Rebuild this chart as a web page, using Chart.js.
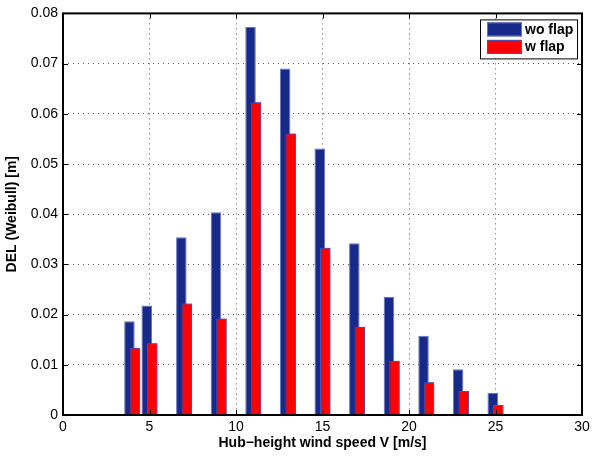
<!DOCTYPE html>
<html>
<head>
<meta charset="utf-8">
<script src="https://cdn.jsdelivr.net/npm/chart.js@4.4.1/dist/chart.umd.min.js"></script>
<style>
    html, body { margin: 0; padding: 0; background: #ffffff; }
    #wrap { width: 600px; height: 456px; }
</style>
</head>
<body>
<div id="wrap"><canvas id="chart"></canvas></div>
<script>
const windSpeeds = [4, 5, 7, 9, 11, 13, 15, 17, 19, 21, 23, 25];
const delWithoutFlap = [0.0187, 0.0218, 0.0354, 0.0404, 0.0773, 0.0690, 0.0531, 0.0342, 0.0235, 0.0158, 0.0091, 0.0044];
const delWithFlap = [0.0134, 0.0143, 0.0222, 0.0192, 0.0623, 0.0561, 0.0333, 0.0176, 0.0108, 0.0065, 0.0048, 0.0020];
const xTicks = [0, 5, 10, 15, 20, 25, 30];
const yTicks = [0, 0.01, 0.02, 0.03, 0.04, 0.05, 0.06, 0.07, 0.08];

const toPoints = (values) => windSpeeds.map((v, i) => ({ x: v, y: values[i] }));

const tickFont = { family: "'Liberation Sans', Arial, sans-serif", size: 14 };
const titleFont = { family: "'Liberation Sans', Arial, sans-serif", size: 14, weight: 'bold' };

// box round the plot plus inward ticks, matlab style
const axesBox = {
    id: 'axesBox',
    afterDatasetsDraw(chart) {
        const { ctx, chartArea: a, scales } = chart;
        // red bars sit on top of the blue ones but stay on the right
        ctx.save();
        chart.getDatasetMeta(1).data.forEach(el => el.draw(ctx, a));
        ctx.restore();

        ctx.save();
        ctx.strokeStyle = '#000';
        ctx.lineWidth = 1;
        ctx.beginPath();
        xTicks.forEach(t => {
            const px = Math.round(scales.x.getPixelForValue(t)) + 0.5;
            ctx.moveTo(px, a.bottom); ctx.lineTo(px, a.bottom - 5);
            ctx.moveTo(px, a.top); ctx.lineTo(px, a.top + 5);
        });
        yTicks.forEach(t => {
            const py = Math.round(scales.y.getPixelForValue(t)) + 0.5;
            ctx.moveTo(a.left, py); ctx.lineTo(a.left + 5, py);
            ctx.moveTo(a.right, py); ctx.lineTo(a.right - 5, py);
        });
        ctx.stroke();
        ctx.lineWidth = 2;
        ctx.strokeRect(a.left, a.top, a.right - a.left, a.bottom - a.top);
        ctx.restore();
    },
    afterDraw(chart) {
        // legend box in the top right corner of the axes
        const { ctx, chartArea: a } = chart;
        const boxW = 97, boxH = 39;
        const bx = a.right - 5 - boxW, by = a.top + 6;
        ctx.save();
        ctx.fillStyle = '#fff';
        ctx.fillRect(bx, by, boxW, boxH);
        ctx.strokeStyle = '#000';
        ctx.lineWidth = 1;
        ctx.strokeRect(bx + 0.5, by + 0.5, boxW, boxH);
        ctx.font = "bold 14px 'Liberation Sans', Arial, sans-serif";
        ctx.textBaseline = 'middle';
        chart.data.datasets.forEach((ds, i) => {
            const sy = by + 3 + i * 17.5;
            ctx.fillStyle = ds.backgroundColor;
            ctx.fillRect(bx + 7, sy, 35, 14);
            ctx.strokeStyle = ds.borderColor;
            ctx.strokeRect(bx + 7.5, sy + 0.5, 34, 13);
            ctx.fillStyle = '#000';
            ctx.fillText(ds.label, bx + 45, sy + 7.5);
        });
        ctx.restore();
    }
};

new Chart(document.getElementById('chart'), {
    type: 'bar',
    data: {
        datasets: [
            {
                label: 'wo flap',
                data: toPoints(delWithoutFlap),
                backgroundColor: '#172a8a',
                borderColor: '#6674bd',
                borderWidth: 1
            },
            {
                label: 'w flap',
                data: toPoints(delWithFlap),
                backgroundColor: '#ff0000',
                borderColor: '#4a4fb0',
                borderWidth: 1
            }
        ]
    },
    options: {
        responsive: true,
        maintainAspectRatio: false,
        animation: false,
        categoryPercentage: 0.64,
        barPercentage: 1.9,
        layout: { padding: { left: 0, right: 18, top: 6, bottom: 0 } },
        plugins: {
            legend: { display: false },
            tooltip: { enabled: false }
        },
        scales: {
            x: {
                type: 'linear',
                min: 0,
                max: 30,
                offset: false,
                afterBuildTicks: (scale) => { scale.ticks = xTicks.map(v => ({ value: v })); },
                afterFit: (scale) => { scale.height = 41; },
                grid: { color: '#555', lineWidth: 1, drawTicks: false, offset: false },
                border: { display: false, dash: [1, 4] },
                ticks: { color: '#000', font: tickFont, padding: 4, maxRotation: 0 },
                title: { display: true, text: 'Hub\u2212height wind speed V [m/s]', color: '#000', font: titleFont, padding: { top: 0 } }
            },
            y: {
                min: 0,
                max: 0.08,
                afterBuildTicks: (scale) => { scale.ticks = yTicks.map(v => ({ value: v })); },
                afterFit: (scale) => { scale.width = 63; },
                grid: { color: '#555', lineWidth: 1, drawTicks: false },
                border: { display: false, dash: [1, 4] },
                ticks: { color: '#000', font: tickFont, padding: 5, callback: (v) => String(+v.toFixed(2)) },
                title: { display: true, text: 'DEL (Weibull) [m]', color: '#000', font: titleFont, padding: { bottom: 4 } }
            }
        }
    },
    plugins: [axesBox]
});
</script>
</body>
</html>
